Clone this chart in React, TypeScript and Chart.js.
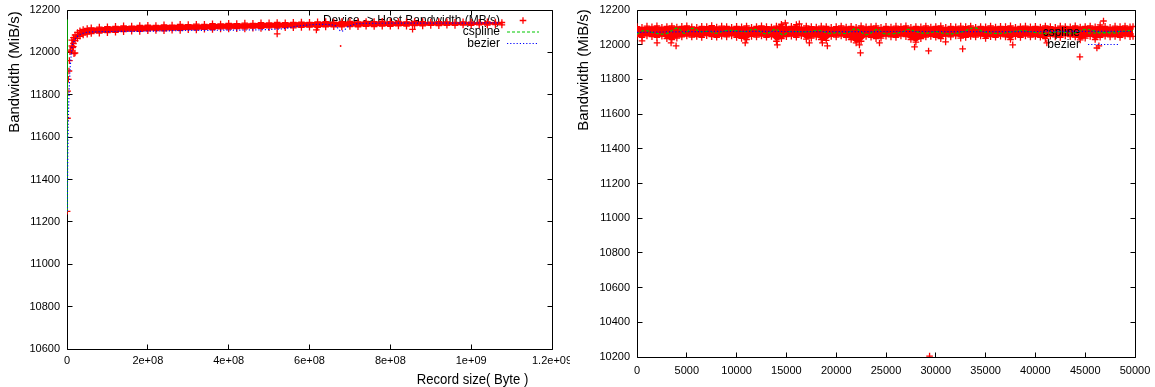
import React, { useEffect, useRef } from 'react';
import { Chart, registerables } from 'chart.js';

Chart.register(...registerables);

const FONT = '"Liberation Sans", Arial, Helvetica, sans-serif';
const Y_TITLE = 'Bandwidth (MiB/s)';
const X_TITLE_LEFT = 'Record size( Byte )';
const LEFT_KEY = ['Device -> Host Bandwidth (MB/s)', 'cspline', 'bezier'];
const RIGHT_KEY = ['', 'cspline', 'bezier'];

// ---------------- Left panel: bandwidth vs record size ----------------
const leftXTicks = ['0', '2e+08', '4e+08', '6e+08', '8e+08', '1e+09', '1.2e+09'];
const leftYTicks = ['10600', '10800', '11000', '11200', '11400', '11600', '11800', '12000', '12200'];

const leftBandX = [
  1.2e7, 1.6e7, 2.0e7, 2.6e7, 3.2e7, 4.0e7, 5.0e7, 6.0e7, 8.0e7, 1.0e8,
  1.2e8, 1.4e8, 1.6e8, 1.8e8, 2.0e8, 2.2e8, 2.4e8, 2.6e8, 2.8e8, 3.0e8,
  3.2e8, 3.4e8, 3.6e8, 3.8e8, 4.0e8, 4.2e8, 4.4e8, 4.6e8, 4.8e8, 5.0e8,
  5.2e8, 5.4e8, 5.6e8, 5.8e8, 6.0e8, 6.2e8, 6.4e8, 6.6e8, 6.8e8, 7.0e8,
  7.2e8, 7.4e8, 7.6e8, 7.8e8, 8.0e8, 8.2e8, 8.4e8, 8.6e8, 8.8e8, 9.0e8,
  9.2e8, 9.4e8, 9.6e8, 9.8e8, 1.0e9, 1.02e9, 1.04e9, 1.06e9, 1.076e9,
];
const leftBandHi = [
  12058, 12070, 12082, 12094, 12102, 12108, 12113, 12116, 12119, 12121,
  12123, 12125, 12124, 12127, 12128, 12127, 12130, 12129, 12132, 12131,
  12133, 12132, 12135, 12134, 12137, 12136, 12138, 12137, 12140, 12139,
  12141, 12140, 12142, 12143, 12142, 12144, 12145, 12143, 12145, 12146,
  12144, 12146, 12145, 12147, 12145, 12146, 12144, 12146, 12145, 12143,
  12145, 12144, 12142, 12144, 12143, 12142, 12144, 12142, 12141,
];
const leftBandLo = [
  12030, 12042, 12055, 12066, 12076, 12082, 12086, 12089, 12091, 12093,
  12095, 12098, 12100, 12099, 12102, 12103, 12102, 12105, 12104, 12107,
  12106, 12109, 12108, 12111, 12110, 12112, 12111, 12114, 12113, 12116,
  12115, 12117, 12116, 12118, 12119, 12118, 12120, 12121, 12120, 12122,
  12121, 12123, 12122, 12124, 12123, 12125, 12124, 12126, 12125, 12127,
  12126, 12128, 12127, 12129, 12128, 12130, 12129, 12131, 12130,
];
const leftStrayX = [3e5, 1.2e6, 1.7e6, 3.2e6, 4.9e6, 6.0e6, 7.4e6, 9.1e6, 1.4e7, 1.56e7, 1.73e7, 1.98e7, 5.2e8, 6.17e8, 8.55e8];
const leftStrayY = [11250, 11689, 11817, 11873, 11912, 11961, 12003, 12011, 12022, 12027, 11994, 11997, 12087, 12106, 12109];
const leftDotX = [6.77e8];
const leftDotY = [12030];
const leftCsplineX = [2e5, 4e5];
const leftCsplineY = [11250, 12155];
const leftBezierX = [5e5, 1.2e6, 2.5e6, 4.9e6, 1.16e7, 1.73e7, 2.47e7, 3.95e7, 5.68e7, 1.56e8, 3.28e8, 5.26e8, 5.75e8, 6.25e8, 6.62e8, 6.79e8, 6.99e8, 7.23e8, 8.72e8, 1.069e9];
const leftBezierY = [11250, 11400, 11600, 11800, 12011, 12050, 12073, 12090, 12096, 12099, 12104, 12110, 12125, 12132, 12128, 12100, 12125, 12136, 12138, 12139];

// ---------------- Right panel: bandwidth vs iteration ----------------
const rightXTicks = ['0', '5000', '10000', '15000', '20000', '25000', '30000', '35000', '40000', '45000', '50000'];
const rightYTicks = ['10200', '10400', '10600', '10800', '11000', '11200', '11400', '11600', '11800', '12000', '12200'];

const rightBandX = [
  0, 500, 1000, 1500, 2000, 2500, 3000, 3500, 4000, 4500,
  5000, 5500, 6000, 6500, 7000, 7500, 8000, 8500, 9000, 9500,
  10000, 10500, 11000, 11500, 12000, 12500, 13000, 13500, 14000, 14500,
  15000, 15500, 16000, 16500, 17000, 17500, 18000, 18500, 19000, 19500,
  20000, 20500, 21000, 21500, 22000, 22500, 23000, 23500, 24000, 24500,
  25000, 25500, 26000, 26500, 27000, 27500, 28000, 28500, 29000, 29500,
  30000, 30500, 31000, 31500, 32000, 32500, 33000, 33500, 34000, 34500,
  35000, 35500, 36000, 36500, 37000, 37500, 38000, 38500, 39000, 39500,
  40000, 40500, 41000, 41500, 42000, 42500, 43000, 43500, 44000, 44500,
  45000, 45500, 46000, 46500, 47000, 47500, 48000, 48500, 49000, 49500,
  49800,
];
const rightBandHi = [
  12104, 12100, 12107, 12103, 12109, 12101, 12105, 12108, 12102, 12106,
  12109, 12103, 12100, 12106, 12104, 12110, 12102, 12107, 12105, 12101,
  12106, 12103, 12108, 12100, 12105, 12109, 12104, 12102, 12107, 12118,
  12103, 12106, 12116, 12101, 12108, 12104, 12102, 12107, 12105, 12100,
  12104, 12108, 12102, 12106, 12101, 12109, 12103, 12105, 12108, 12100,
  12106, 12102, 12107, 12104, 12109, 12101, 12105, 12103, 12108, 12102,
  12105, 12109, 12100, 12106, 12103, 12107, 12104, 12108, 12101, 12105,
  12103, 12108, 12102, 12106, 12104, 12109, 12101, 12105, 12107, 12103,
  12106, 12102, 12108, 12104, 12100, 12107, 12105, 12103, 12109, 12102,
  12105, 12108, 12103, 12114, 12106, 12101, 12107, 12104, 12108, 12103,
  12105,
];
const rightBandLo = [
  12048, 12043, 12051, 12046, 12042, 12049, 12035, 12030, 12038, 12045,
  12050, 12044, 12047, 12042, 12052, 12046, 12043, 12049, 12045, 12051,
  12042, 12036, 12030, 12048, 12044, 12050, 12043, 12047, 12020, 12035,
  12046, 12049, 12043, 12051, 12032, 12038, 12045, 12030, 12025, 12048,
  12044, 12050, 12042, 12030, 12010, 12020, 12047, 12043, 12035, 12038,
  12049, 12045, 12042, 12050, 12046, 12030, 12015, 12035, 12044, 12048,
  12043, 12035, 12049, 12045, 12051, 12038, 12042, 12047, 12044, 12050,
  12036, 12046, 12043, 12049, 12045, 12030, 12048, 12042, 12050, 12044,
  12047, 12043, 12035, 12049, 12045, 12042, 12051, 12046, 12044, 12028,
  12038, 12048, 12030, 12043, 12049, 12045, 12047, 12042, 12050, 12046,
  12048,
];
const rightStrayX = [503, 2012, 3420, 3923, 10865, 14084, 14889, 16297, 17303, 18611, 19114, 22333, 22434, 24345, 27866, 29275, 29375, 30985, 32695, 37725, 41145, 44465, 46175, 46376];
const rightStrayY = [12022, 12010, 12010, 11993, 12010, 11999, 12125, 12120, 12010, 12010, 11993, 11999, 11953, 12010, 11987, 11964, 10205, 12016, 11976, 11999, 12010, 11930, 11981, 11993];
const rightDotX: number[] = [];
const rightDotY: number[] = [];
const rightCsplineX = [0, 700, 1880, 2880, 4060, 4730, 5570, 6400, 7240, 7910, 8920, 9930, 10930, 11770, 12940, 13950, 14620, 15290, 16300, 17300, 18140, 19310, 19980, 20990, 22000, 23000, 24180, 24680, 25680, 26690, 27190, 28030, 29030, 30040, 31040, 32050, 32720, 33890, 34730, 35730, 36740, 37740, 38750, 40090, 41090, 42430, 43770, 45110, 46450, 48130, 49800];
const rightCsplineY = [12060, 12081, 12066, 12063, 12096, 12066, 12094, 12075, 12078, 12066, 12081, 12081, 12075, 12089, 12063, 12089, 12056, 12075, 12075, 12075, 12083, 12066, 12069, 12066, 12091, 12058, 12089, 12066, 12063, 12075, 12089, 12075, 12066, 12075, 12063, 12066, 12075, 12097, 12075, 12066, 12066, 12075, 12081, 12070, 12066, 12075, 12066, 12089, 12072, 12075, 12083];
const rightBezierX = [0, 5000, 10000, 15000, 20000, 25000, 30000, 35000, 40000, 45000, 49800];
const rightBezierY = [12071, 12075, 12077, 12076, 12075, 12076, 12076, 12075, 12076, 12077, 12076];

const RED = '#ff0000';
const GREEN = '#00c800';
const BLUE = '#0000ff';
const GREEN_DASH = [3, 2];
const BLUE_DASH = [1.2, 2];

function pairs(xs: number[], ys: number[]) {
  return xs.map((x, i) => ({ x, y: ys[i] }));
}

function drawCross(ctx: CanvasRenderingContext2D, x: number, y: number, r: number) {
  ctx.beginPath();
  ctx.moveTo(x - r, y);
  ctx.lineTo(x + r, y);
  ctx.moveTo(x, y - r);
  ctx.lineTo(x, y + r);
  ctx.stroke();
}

type Spec = {
  width: number;
  xMin: number; xMax: number; xStep: number;
  yMin: number; yMax: number; yStep: number;
  xTicks: string[]; yTicks: string[];
  yAxisW: number; xAxisH: number; padRight: number; xTickPad: number;
  bandX: number[]; bandHi: number[]; bandLo: number[];
  strayX: number[]; strayY: number[];
  dotX: number[]; dotY: number[];
  csX: number[]; csY: number[]; csDash: number[]; csTension: number;
  bzX: number[]; bzY: number[];
  keyLabels: string[];
  key: { right: number; sL: number; sR: number; rows: number[] };
  yTitle: { x: number; y: number };
  xTitle?: { x: number; y: number; w: number };
};

function decorPlugin(spec: Spec) {
  const drawKeyRow = (ctx: CanvasRenderingContext2D, i: number) => {
    const { right, sL, sR, rows } = spec.key;
    const y = rows[i];
    ctx.save();
    ctx.font = `12px ${FONT}`;
    ctx.fillStyle = '#000';
    ctx.textAlign = 'right';
    ctx.textBaseline = 'middle';
    if (spec.keyLabels[i]) ctx.fillText(spec.keyLabels[i], right, y);
    ctx.lineWidth = 1.3;
    if (i === 0) {
      ctx.strokeStyle = RED;
      drawCross(ctx, (sL + sR) / 2, y, 3.3);
    } else {
      ctx.lineWidth = 1.2;
      ctx.strokeStyle = i === 1 ? GREEN : BLUE;
      ctx.setLineDash(i === 1 ? GREEN_DASH : BLUE_DASH);
      ctx.beginPath();
      ctx.moveTo(sL, y);
      ctx.lineTo(sR, y);
      ctx.stroke();
    }
    ctx.restore();
  };
  return {
    id: 'gnuplotDecor',
    beforeDatasetsDraw(chart: any) {
      const { ctx, chartArea: a } = chart;
      const xs = chart.scales.x;
      const ys = chart.scales.y;
      const L = Math.floor(a.left) + 0.5;
      const R = Math.floor(a.right) + 0.5;
      const T = Math.floor(a.top) + 0.5;
      const B = Math.floor(a.bottom) + 0.5;
      ctx.save();
      ctx.strokeStyle = '#000';
      ctx.lineWidth = 1;
      ctx.beginPath();
      ctx.rect(L, T, R - L, B - T);
      for (const tk of xs.ticks) {
        const p = Math.floor(xs.getPixelForValue(tk.value)) + 0.5;
        ctx.moveTo(p, B); ctx.lineTo(p, B - 5);
        ctx.moveTo(p, T); ctx.lineTo(p, T + 5);
      }
      for (const tk of ys.ticks) {
        const p = Math.floor(ys.getPixelForValue(tk.value)) + 0.5;
        ctx.moveTo(L, p); ctx.lineTo(L + 5, p);
        ctx.moveTo(R, p); ctx.lineTo(R - 5, p);
      }
      ctx.stroke();
      ctx.restore();
      drawKeyRow(ctx, 0);
    },
    beforeDatasetDraw(chart: any, args: any) {
      if (args.index === 1) drawKeyRow(chart.ctx, 1);
      if (args.index === 0) drawKeyRow(chart.ctx, 2);
    },
    afterDraw(chart: any) {
      const ctx: CanvasRenderingContext2D = chart.ctx;
      ctx.save();
      ctx.fillStyle = '#000';
      ctx.textAlign = 'center';
      ctx.textBaseline = 'middle';
      ctx.font = `15px ${FONT}`;
      ctx.translate(spec.yTitle.x, spec.yTitle.y);
      ctx.rotate(-Math.PI / 2);
      ctx.fillText(Y_TITLE, 0, 0);
      ctx.restore();
      if (spec.xTitle) {
        ctx.save();
        ctx.fillStyle = '#000';
        ctx.textAlign = 'center';
        ctx.textBaseline = 'middle';
        ctx.font = `15px ${FONT}`;
        const w = ctx.measureText(X_TITLE_LEFT).width;
        ctx.translate(spec.xTitle.x, spec.xTitle.y);
        ctx.scale(spec.xTitle.w / w, 1);
        ctx.fillText(X_TITLE_LEFT, 0, 0);
        ctx.restore();
      }
    },
  };
}

function buildConfig(spec: Spec): any {
  const crossPts = {
    pointStyle: 'cross',
    pointRadius: 3.3,
    pointBorderWidth: 1.3,
    pointBorderColor: RED,
    pointBackgroundColor: RED,
  };
  return {
    type: 'line',
    data: {
      datasets: [
        {
          data: pairs(spec.bzX, spec.bzY),
          borderColor: BLUE, borderWidth: 1.2, borderDash: BLUE_DASH,
          pointRadius: 0, cubicInterpolationMode: 'monotone', fill: false,
        },
        {
          data: pairs(spec.csX, spec.csY),
          borderColor: GREEN, borderWidth: 1.2, borderDash: spec.csDash,
          pointRadius: 0, tension: spec.csTension, fill: false,
        },
        { data: pairs(spec.strayX, spec.strayY), showLine: false, ...crossPts },
        {
          data: pairs(spec.bandX, spec.bandHi), borderColor: 'transparent', borderWidth: 1,
          fill: '+1', backgroundColor: RED, ...crossPts,
        },
        {
          data: pairs(spec.bandX, spec.bandLo), borderColor: 'transparent', borderWidth: 1,
          fill: false, ...crossPts,
        },
        {
          data: pairs(spec.dotX, spec.dotY), showLine: false,
          pointStyle: 'circle', pointRadius: 0.9, pointBorderWidth: 0,
          pointBackgroundColor: RED, pointBorderColor: RED,
        },
      ],
    },
    options: {
      animation: false,
      responsive: false,
      maintainAspectRatio: false,
      events: [],
      layout: { autoPadding: false, padding: { left: 0, top: 10, right: spec.padRight, bottom: 0 } },
      plugins: { legend: { display: false }, tooltip: { enabled: false }, title: { display: false } },
      scales: {
        x: {
          type: 'linear', min: spec.xMin, max: spec.xMax,
          grid: { display: false, drawTicks: false }, border: { display: false },
          ticks: {
            stepSize: spec.xStep, autoSkip: false, maxRotation: 0, padding: spec.xTickPad,
            color: '#000', font: { family: FONT, size: 11 },
            callback: (_v: any, i: number) => spec.xTicks[i],
          },
          afterFit: (s: any) => {
            s.height = spec.xAxisH;
            s.paddingLeft = 0;
            s.paddingRight = 0;
          },
        },
        y: {
          type: 'linear', min: spec.yMin, max: spec.yMax,
          grid: { display: false, drawTicks: false }, border: { display: false },
          ticks: {
            stepSize: spec.yStep, autoSkip: false, padding: 7,
            color: '#000', font: { family: FONT, size: 11 },
            callback: (_v: any, i: number) => spec.yTicks[i],
          },
          afterFit: (s: any) => {
            s.width = spec.yAxisW;
            s.paddingTop = 0;
            s.paddingBottom = 0;
          },
        },
      },
    },
    plugins: [decorPlugin(spec)],
  };
}

const leftSpec: Spec = {
  width: 570,
  xMin: 0, xMax: 1.2e9, xStep: 2e8,
  yMin: 10600, yMax: 12200, yStep: 200,
  xTicks: leftXTicks, yTicks: leftYTicks,
  yAxisW: 67, xAxisH: 38, padRight: 18, xTickPad: 5.5,
  bandX: leftBandX, bandHi: leftBandHi, bandLo: leftBandLo,
  strayX: leftStrayX, strayY: leftStrayY,
  dotX: leftDotX, dotY: leftDotY,
  csX: leftCsplineX, csY: leftCsplineY, csDash: [], csTension: 0,
  bzX: leftBezierX, bzY: leftBezierY,
  keyLabels: LEFT_KEY,
  key: { right: 500, sL: 507, sR: 539, rows: [20.5, 32, 43.5] },
  yTitle: { x: 15, y: 72 },
  xTitle: { x: 472.5, y: 380, w: 111.6 },
};

const rightSpec: Spec = {
  width: 585,
  xMin: 0, xMax: 50000, xStep: 5000,
  yMin: 10200, yMax: 12200, yStep: 200,
  xTicks: rightXTicks, yTicks: rightYTicks,
  yAxisW: 67, xAxisH: 30, padRight: 20, xTickPad: 7,
  bandX: rightBandX, bandHi: rightBandHi, bandLo: rightBandLo,
  strayX: rightStrayX, strayY: rightStrayY,
  dotX: rightDotX, dotY: rightDotY,
  csX: rightCsplineX, csY: rightCsplineY, csDash: GREEN_DASH, csTension: 0.4,
  bzX: rightBezierX, bzY: rightBezierY,
  keyLabels: RIGHT_KEY,
  key: { right: 510, sL: 518, sR: 549, rows: [21, 33, 44.5] },
  yTitle: { x: 13.5, y: 70 },
};

function Panel({ spec, left }: { spec: Spec; left: number }) {
  const ref = useRef<HTMLCanvasElement | null>(null);
  useEffect(() => {
    if (!ref.current) return;
    const chart = new Chart(ref.current, buildConfig(spec));
    return () => chart.destroy();
  }, [spec]);
  return (
    <canvas
      ref={ref}
      width={spec.width}
      height={387}
      style={{ position: 'absolute', left, top: 0, width: spec.width, height: 387, display: 'block' }}
    />
  );
}

export default function App() {
  return (
    <div style={{ position: 'absolute', left: 0, top: 0, width: 1155, height: 387, background: '#fff', overflow: 'hidden' }}>
      <Panel spec={leftSpec} left={0} />
      <Panel spec={rightSpec} left={570} />
    </div>
  );
}
